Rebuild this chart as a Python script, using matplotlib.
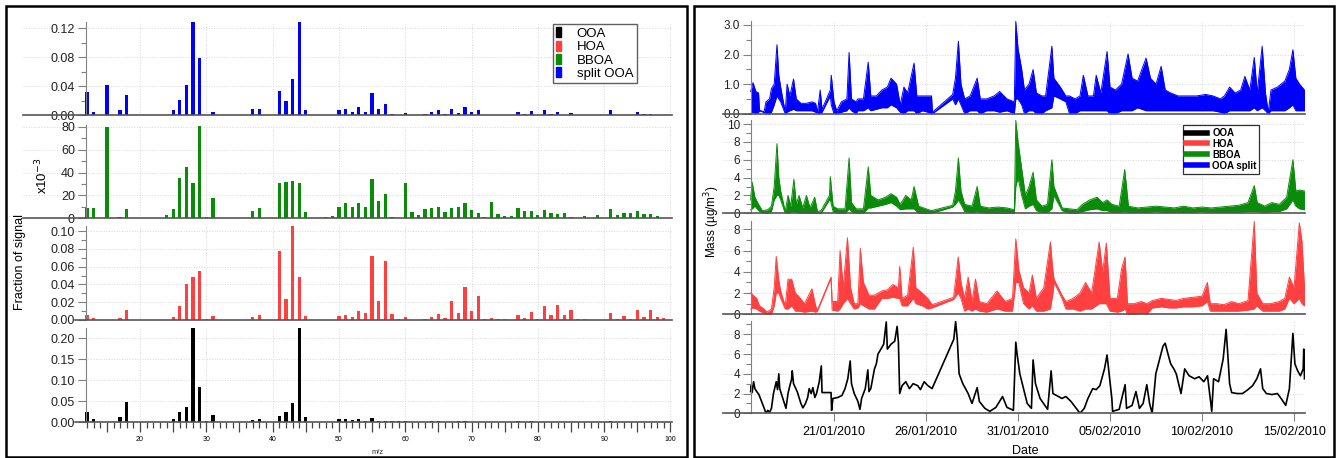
import numpy as np
import matplotlib
matplotlib.use('Agg')
import matplotlib.pyplot as plt
import matplotlib.dates as mdates
from matplotlib.patches import Rectangle, Patch
from matplotlib.lines import Line2D
from matplotlib.ticker import FixedLocator, MultipleLocator, FormatStrFormatter, FuncFormatter

plt.rcParams['font.family'] = ['Liberation Sans', 'DejaVu Sans']

# ---------------- mass spectra (m/z 12..100) ----------------
mz = list(range(12, 101))

split_ooa = [0.032, 0.005, 0, 0.041, 0.001, 0.007, 0.028, 0, 0, 0,
             0, 0, 0, 0.007, 0.021, 0.042, 0.15, 0.079, 0.001, 0.005,
             0, 0, 0, 0, 0, 0.009, 0.009, 0, 0, 0.033,
             0.020, 0.050, 0.15, 0.007, 0, 0, 0, 0, 0.007, 0.008,
             0.004, 0.012, 0.005, 0.031, 0.008, 0.016, 0.002, 0, 0.003, 0,
             0, 0.002, 0.004, 0.007, 0.002, 0.009, 0.003, 0.012, 0.004, 0.007,
             0.0005, 0.0005, 0.0005, 0.0005, 0.001, 0.005, 0.002, 0.006, 0, 0.007,
             0.002, 0.004, 0.001, 0.003, 0, 0, 0, 0, 0, 0.007,
             0, 0.001, 0, 0.004, 0.002, 0.002, 0, 0.001, 0]

bboa = [9.4, 9.4, 0, 80, 0, 1.4, 7.7, 0, 0, 0,
        0, 0, 2.6, 8.5, 35.5, 44.5, 31, 80.5, 1.4, 18,
        0, 0, 0, 0, 0, 6.2, 9.4, 0, 0, 31,
        32, 32.4, 31, 5.4, 0, 0, 0.9, 2.3, 10.2, 13,
        10, 13, 10, 34, 14.7, 21.5, 0.9, 0, 31, 5.1,
        2.6, 7.9, 8.8, 9.6, 5.4, 8.8, 9.6, 13, 7.1, 4.8,
        1.1, 14.2, 4, 1.7, 2, 9.4, 6.8, 6.8, 2.8, 7.4,
        4.5, 3.7, 4.3, 1.1, 0.3, 1.7, 0.3, 2.8, 0.3, 7.9,
        2.8, 4.3, 4.3, 6.2, 3.4, 3.4, 2, 0.3, 0]

hoa = [0.0056, 0.0022, 0, 0, 0.0005, 0.0022, 0.011, 0, 0, 0,
       0, 0, 0, 0.0034, 0.016, 0.041, 0.048, 0.055, 0.001, 0.0045,
       0, 0, 0, 0, 0, 0.0037, 0.0056, 0, 0, 0.077,
       0.024, 0.106, 0.048, 0.0045, 0, 0, 0, 0, 0.0045, 0.0056,
       0.0034, 0.010, 0.0075, 0.072, 0.021, 0.066, 0.0068, 0.0015, 0.0034, 0.0003,
       0.0003, 0.001, 0.0034, 0.0068, 0.0022, 0.021, 0.0075, 0.037, 0.010, 0.027,
       0.0015, 0.0019, 0.0008, 0.0008, 0, 0.0056, 0.0022, 0.009, 0.001, 0.016,
       0.0056, 0.017, 0.0056, 0.011, 0.001, 0.0008, 0, 0, 0, 0.0075,
       0.001, 0.005, 0.0015, 0.011, 0.003, 0.011, 0.0034, 0.0022, 0]

ooa = [0.024, 0.007, 0, 0, 0, 0.013, 0.049, 0, 0, 0,
       0, 0, 0, 0.007, 0.025, 0.037, 0.25, 0.084, 0.002, 0.018,
       0, 0, 0, 0, 0, 0.005, 0.009, 0, 0, 0.014,
       0.025, 0.046, 0.25, 0.013, 0, 0, 0, 0, 0.008, 0.008,
       0.005, 0.009, 0.004, 0.010, 0.004, 0.002, 0.004, 0.002, 0.003, 0,
       0, 0.001, 0.003, 0.004, 0.001, 0.001, 0.004, 0.002, 0.001, 0,
       0, 0.001, 0, 0.001, 0, 0.002, 0.001, 0.002, 0, 0.001,
       0.001, 0, 0, 0, 0.001, 0, 0, 0, 0, 0.002,
       0, 0.001, 0, 0.001, 0.001, 0.001, 0, 0.001, 0]

# ---------------- time series (day of Jan 2010, Feb d = 31+d) ----------------
# (time, low, high) envelopes
blue_pts = [(16.47, 0.0, 0.75), (16.6, 0.05, 1.05), (16.75, 0.0, 0.75), (16.9, 0.05, 0.7),
            (16.95, 0.1, 0.12), (17.2, 0.04, 0.06), (17.3, 0.0, 0.4), (17.5, 0.0, 0.5),
            (17.6, 0.05, 0.85), (17.75, 0.3, 1.0), (17.9, 0.6, 2.33), (18.0, 0.5, 1.3),
            (18.1, 0.4, 0.9), (18.35, 0.0, 0.05), (18.45, 0.05, 1.0), (18.6, 0.1, 0.6),
            (18.8, 0.15, 1.17), (18.95, 0.1, 0.5), (19.2, 0.1, 0.35), (19.5, 0.1, 0.35),
            (19.8, 0.1, 0.4), (20.0, 0.05, 0.35), (20.1, 0.0, 0.05), (20.25, 0.0, 0.8),
            (20.35, 0.05, 0.15), (20.8, 0.6, 0.8), (20.85, 0.3, 1.3), (21.0, 0.0, 0.4),
            (21.15, 0.0, 0.1), (21.4, 0.05, 0.4), (21.7, 0.1, 0.5), (21.82, 0.2, 2.07),
            (21.95, 0.1, 0.5), (22.2, 0.0, 0.4), (22.3, 0.1, 0.5), (22.6, 0.1, 0.5),
            (22.86, 0.2, 1.74), (23.0, 0.1, 0.6), (23.3, 0.15, 0.6), (23.6, 0.2, 0.8),
            (23.9, 0.2, 0.9), (24.1, 0.3, 1.2), (24.4, 0.2, 1.0), (24.6, 0.05, 0.3),
            (24.8, 0.0, 0.9), (25.0, 0.1, 0.7), (25.35, 0.1, 1.71), (25.5, 0.0, 0.6),
            (25.8, 0.1, 0.6), (26.1, 0.05, 0.6), (26.3, 0.0, 0.6), (26.35, 0.0, 0.05),
            (27.45, 0.5, 0.65), (27.6, 0.3, 1.2), (27.76, 0.5, 2.45), (27.9, 0.3, 1.0),
            (28.1, 0.0, 0.5), (28.4, 0.1, 0.6), (28.78, 0.1, 1.2), (28.95, 0.0, 0.5),
            (29.3, 0.1, 0.5), (29.7, 0.1, 0.6), (30.0, 0.05, 0.75), (30.4, 0.1, 0.5),
            (30.8, 0.0, 0.4), (30.88, 0.5, 3.12), (31.0, 0.5, 2.2), (31.2, 0.3, 1.5),
            (31.35, 0.0, 0.8), (31.6, 0.1, 1.0), (31.82, 0.1, 1.49), (32.0, 0.0, 0.7),
            (32.3, 0.0, 0.6), (32.5, 0.1, 0.6), (32.84, 0.2, 2.28), (32.95, 0.6, 1.2),
            (33.3, 0.5, 0.9), (33.6, 0.4, 0.6), (33.8, 0.0, 0.6), (34.1, 0.0, 0.5),
            (34.37, 0.1, 0.6), (34.55, 0.1, 1.3), (34.8, 0.1, 0.6), (35.1, 0.1, 0.6),
            (35.25, 0.1, 1.3), (35.5, 0.1, 0.7), (35.84, 0.1, 2.1), (36.0, 0.0, 0.9),
            (36.3, 0.0, 0.8), (36.63, 0.1, 1.0), (36.98, 0.1, 2.02), (37.2, 0.1, 1.2),
            (37.5, 0.2, 1.1), (37.96, 0.1, 1.88), (38.2, 0.1, 1.2), (38.5, 0.1, 1.0),
            (38.78, 0.1, 1.6), (39.0, 0.1, 0.8), (39.3, 0.1, 0.7), (39.7, 0.1, 0.6),
            (40.2, 0.1, 0.6), (40.7, 0.1, 0.6), (41.2, 0.1, 0.65), (41.6, 0.1, 0.6),
            (42.0, 0.05, 0.5), (42.22, 0.0, 0.6), (42.5, 0.1, 0.9), (42.8, 0.1, 0.7),
            (43.1, 0.1, 0.8), (43.33, 0.1, 1.26), (43.6, 0.1, 0.8), (43.84, 0.2, 1.9),
            (44.0, 0.1, 0.7), (44.27, 0.2, 2.28), (44.45, 0.1, 0.7), (44.6, 0.0, 0.05),
            (44.75, 0.1, 0.8), (45.1, 0.1, 0.9), (45.5, 0.1, 1.1), (45.75, 0.2, 1.5),
            (45.94, 0.3, 2.16), (46.1, 0.1, 1.2), (46.3, 0.1, 1.0), (46.57, 0.1, 0.8)]

green_pts = [(16.47, 0.4, 1.5), (16.55, 0.5, 3.5), (16.7, 0.8, 1.8), (16.9, 0.3, 1.0),
             (17.1, 0.0, 0.3), (17.4, 0.0, 0.4), (17.6, 0.2, 0.8), (17.75, 1.5, 3.0),
             (17.9, 2.0, 7.8), (18.0, 2.0, 4.0), (18.1, 1.5, 2.5), (18.35, 0.0, 0.2),
             (18.5, 0.0, 2.0), (18.65, 0.1, 0.8), (18.82, 0.2, 3.8), (18.95, 0.1, 1.0),
             (19.1, 0.0, 2.0), (19.3, 0.0, 0.6), (19.5, 0.0, 2.0), (19.7, 0.0, 0.6),
             (19.95, 0.0, 1.8), (20.1, 0.0, 0.2), (20.3, 0.0, 0.3), (20.75, 1.5, 2.0),
             (20.8, 1.5, 4.1), (20.95, 0.2, 0.8), (21.2, 0.0, 0.5), (21.6, 0.0, 0.5),
             (21.82, 0.5, 6.2), (21.95, 0.2, 1.2), (22.2, 0.0, 0.5), (22.6, 0.0, 0.5),
             (22.86, 0.6, 5.2), (23.0, 0.6, 2.0), (23.4, 0.8, 1.5), (23.8, 1.0, 1.8),
             (24.1, 1.2, 2.2), (24.4, 0.8, 1.8), (24.6, 0.4, 1.0), (24.9, 0.5, 2.0),
             (25.2, 0.5, 1.5), (25.35, 0.5, 3.0), (25.6, 0.0, 0.8), (26.0, 0.0, 0.5),
             (26.3, 0.0, 0.3), (27.45, 0.7, 0.9), (27.6, 1.0, 2.5), (27.76, 1.5, 6.2),
             (27.9, 1.0, 2.5), (28.1, 0.2, 1.0), (28.5, 0.1, 0.8), (28.78, 0.2, 3.0),
             (28.95, 0.1, 0.8), (29.4, 0.0, 0.6), (29.9, 0.0, 0.7), (30.4, 0.0, 0.6),
             (30.8, 0.0, 0.4), (30.88, 3.0, 10.4), (31.0, 4.0, 8.0), (31.2, 2.0, 5.0),
             (31.4, 0.5, 2.0), (31.6, 0.8, 3.0), (31.82, 1.0, 4.6), (32.0, 0.3, 1.5),
             (32.3, 0.1, 0.8), (32.6, 0.1, 1.0), (32.84, 0.5, 6.0), (32.95, 2.0, 3.0),
             (33.4, 0.3, 0.6), (33.8, 0.0, 0.5), (34.2, 0.0, 0.4), (34.5, 0.2, 1.0),
             (34.9, 0.4, 1.5), (35.3, 0.5, 1.8), (35.6, 0.3, 1.2), (35.84, 0.3, 1.5),
             (36.1, 0.1, 1.0), (36.5, 0.1, 0.8), (36.8, 0.2, 4.9), (37.0, 0.1, 0.8),
             (37.5, 0.1, 0.6), (38.0, 0.1, 0.7), (38.5, 0.2, 0.8), (39.0, 0.1, 0.7),
             (39.5, 0.1, 0.6), (40.0, 0.1, 0.8), (40.5, 0.1, 0.6), (41.0, 0.2, 0.7),
             (41.5, 0.1, 0.6), (42.0, 0.1, 0.7), (42.5, 0.1, 0.8), (43.0, 0.1, 0.9),
             (43.5, 0.2, 1.2), (43.84, 0.2, 3.1), (44.0, 0.2, 1.2), (44.4, 0.1, 0.8),
             (44.8, 0.2, 1.2), (45.2, 0.2, 1.0), (45.6, 0.5, 1.8), (45.94, 1.5, 6.0),
             (46.1, 0.8, 2.5), (46.3, 0.5, 2.6), (46.57, 0.4, 2.5)]

red_pts = [(16.47, 0.5, 2.0), (16.6, 0.6, 1.8), (16.8, 0.5, 1.5), (16.95, 0.3, 0.8),
           (17.2, 0.1, 0.5), (17.35, 0.0, 0.2), (17.6, 0.0, 0.5), (17.75, 0.8, 2.5),
           (17.86, 2.0, 5.45), (18.0, 2.0, 3.2), (18.1, 1.5, 2.2), (18.35, 0.5, 0.8),
           (18.5, 0.5, 3.3), (18.7, 0.8, 3.3), (18.9, 0.3, 2.0), (19.08, 0.3, 1.7),
           (19.4, 0.2, 1.0), (19.8, 0.3, 2.4), (20.0, 0.2, 0.8), (20.1, 0.3, 0.4),
           (20.84, 3.4, 3.5), (20.9, 0.4, 1.2), (21.2, 0.3, 1.2), (21.33, 0.5, 6.0),
           (21.5, 1.0, 2.5), (21.73, 1.5, 7.2), (21.9, 1.0, 2.5), (22.1, 0.5, 1.0),
           (22.3, 0.6, 1.0), (22.43, 1.0, 6.2), (22.6, 0.8, 3.0), (22.9, 0.5, 1.8),
           (23.2, 0.5, 1.8), (23.6, 1.5, 2.2), (23.9, 1.5, 2.3), (24.2, 1.6, 2.8),
           (24.5, 1.5, 2.5), (24.57, 1.5, 4.5), (24.7, 0.8, 1.5), (25.0, 0.8, 1.8),
           (25.31, 1.5, 6.3), (25.45, 1.0, 2.5), (25.8, 0.8, 2.0), (26.1, 0.5, 1.5),
           (26.33, 0.6, 0.9), (27.5, 1.4, 1.6), (27.75, 2.0, 5.4), (27.9, 1.5, 3.0),
           (28.1, 0.3, 1.5), (28.29, 0.5, 3.5), (28.5, 0.3, 1.2), (28.69, 0.5, 3.3),
           (28.9, 0.3, 1.2), (29.3, 0.2, 1.0), (29.86, 0.5, 2.2), (30.3, 0.3, 1.2),
           (30.7, 0.3, 1.5), (30.88, 3.0, 7.1), (31.04, 3.0, 4.2), (31.3, 1.0, 2.5),
           (31.6, 0.5, 2.0), (31.78, 0.8, 3.7), (32.0, 0.3, 1.5), (32.4, 0.3, 2.5),
           (32.76, 0.5, 6.8), (32.9, 2.0, 4.0), (32.96, 3.0, 3.3), (33.39, 1.5, 1.8),
           (33.6, 0.5, 1.2), (34.0, 0.5, 1.5), (34.37, 0.3, 2.0), (34.67, 0.5, 3.0),
           (35.0, 0.5, 2.0), (35.41, 1.0, 6.8), (35.6, 1.0, 4.0), (35.8, 1.0, 6.7),
           (36.0, 0.3, 1.5), (36.4, 0.2, 1.5), (36.63, 0.3, 4.3), (36.82, 0.5, 5.4),
           (36.95, 0.0, 1.0), (37.3, 0.0, 1.0), (37.7, 0.1, 1.2), (38.0, 0.0, 1.0),
           (38.3, 0.6, 1.3), (38.8, 0.7, 1.5), (39.2, 0.6, 1.4), (39.6, 0.6, 1.3),
           (40.0, 0.7, 1.5), (40.5, 0.7, 1.6), (41.0, 0.8, 1.7), (41.29, 1.2, 3.0),
           (41.45, 0.3, 1.0), (41.8, 0.3, 1.0), (42.2, 0.3, 0.9), (42.6, 0.3, 1.2),
           (43.0, 0.3, 1.0), (43.5, 0.4, 1.3), (43.84, 0.5, 8.75), (43.98, 0.8, 2.0),
           (44.3, 0.3, 1.0), (44.7, 0.3, 1.0), (45.2, 0.3, 1.2), (45.5, 0.5, 1.5),
           (45.75, 1.5, 3.5), (46.0, 1.0, 2.5), (46.29, 1.5, 8.6), (46.43, 1.0, 6.9),
           (46.57, 0.8, 2.5)]

# OOA trace (time, value)
black_pts = [(16.47, 2.2), (16.5, 2.8), (16.55, 2.1), (16.63, 3.2), (16.7, 2.5), (16.8, 2.2),
             (16.92, 1.9), (17.31, 0.0), (17.4, 0.3), (17.5, 0.1), (17.6, 0.5), (17.71, 2.0),
             (17.86, 3.2), (17.93, 2.4), (18.0, 4.0), (18.05, 2.5), (18.39, 0.5), (18.5, 2.0),
             (18.6, 2.8), (18.69, 3.4), (18.73, 4.3), (18.8, 3.0), (19.0, 2.2), (19.2, 1.0),
             (19.31, 0.55), (19.45, 1.0), (19.57, 1.6), (19.65, 2.5), (19.76, 2.0), (19.85, 2.6),
             (19.96, 1.6), (20.05, 2.0), (20.2, 3.2), (20.31, 4.8), (20.35, 2.1), (20.84, 2.1),
             (20.87, 0.3), (20.94, 1.5), (21.2, 1.6), (21.43, 1.8), (21.6, 2.5), (21.75, 3.5),
             (21.88, 5.3), (21.95, 3.0), (22.1, 2.0), (22.3, 1.2), (22.41, 0.4), (22.5, 1.5),
             (22.7, 2.5), (22.84, 4.4), (22.9, 2.2), (23.0, 2.5), (23.2, 4.5), (23.3, 5.0),
             (23.39, 6.0), (23.55, 6.5), (23.7, 7.0), (23.84, 9.25), (23.9, 6.5), (24.1, 7.0),
             (24.3, 7.3), (24.43, 8.8), (24.5, 7.2), (24.57, 2.0), (24.7, 2.8), (24.9, 3.2),
             (25.1, 2.5), (25.3, 3.0), (25.55, 2.8), (25.7, 2.4), (25.9, 3.2), (26.1, 2.8),
             (26.33, 2.5), (27.51, 7.5), (27.61, 9.3), (27.7, 7.5), (27.8, 4.0), (28.0, 3.0),
             (28.29, 2.0), (28.5, 1.0), (28.78, 2.6), (28.9, 1.2), (29.2, 0.5), (29.47, 0.2),
             (29.8, 0.6), (30.16, 1.7), (30.4, 0.6), (30.75, 0.3), (30.88, 7.2), (30.95, 6.0),
             (31.1, 4.0), (31.3, 2.5), (31.5, 1.0), (31.73, 0.5), (31.82, 5.4), (31.95, 3.0),
             (32.2, 1.5), (32.61, 0.4), (32.8, 4.3), (32.9, 2.0), (33.39, 1.5), (33.6, 1.7),
             (33.88, 1.2), (34.37, 0.0), (34.6, 0.5), (34.8, 1.5), (35.06, 2.5), (35.25, 2.4),
             (35.45, 2.8), (35.7, 4.5), (35.84, 5.9), (35.95, 4.0), (36.1, 1.5), (36.14, 0.2),
             (36.5, 0.4), (36.82, 2.9), (36.9, 0.5), (37.2, 0.8), (37.41, 2.2), (37.6, 0.5),
             (37.8, 1.0), (38.0, 2.9), (38.15, 1.0), (38.29, 0.0), (38.49, 4.0), (38.7, 5.5),
             (38.88, 6.8), (39.0, 7.1), (39.18, 5.8), (39.3, 5.0), (39.47, 4.5), (39.6, 4.0),
             (39.86, 2.0), (40.06, 4.5), (40.3, 3.8), (40.6, 3.5), (40.84, 3.7), (41.1, 3.2),
             (41.3, 3.8), (41.53, 0.2), (41.63, 3.5), (41.9, 3.2), (42.15, 5.5), (42.31, 8.5),
             (42.4, 6.0), (42.5, 3.0), (42.61, 2.1), (42.9, 2.0), (43.2, 2.0), (43.5, 2.4),
             (43.75, 2.8), (43.98, 3.5), (44.18, 4.5), (44.3, 2.5), (44.5, 2.0), (44.8, 1.9),
             (45.1, 2.0), (45.3, 1.5), (45.55, 0.8), (45.75, 2.5), (45.94, 8.1), (46.05, 5.0),
             (46.2, 4.3), (46.35, 3.8), (46.5, 4.5), (46.53, 6.5), (46.57, 3.5)]

date_ticks = ['2010-01-21', '2010-01-26', '2010-01-31', '2010-02-05', '2010-02-10', '2010-02-15']

ms_labels = ['OOA', 'HOA', 'BBOA', 'split OOA']
ts_labels = ['OOA', 'HOA', 'BBOA', 'OOA split']
c_black, c_red, c_green, c_blue = 'black', '#ff4040', '#0a8c0a', '#0000ff'

# ---------------- figure ----------------
W, H = 1342, 458
fig = plt.figure(figsize=(W / 100, H / 100), dpi=100)


def add_ax(x0, y0, x1, y1):
    return fig.add_axes([x0 / W, 1 - y1 / H, (x1 - x0) / W, (y1 - y0) / H])


grid_kw = dict(color='#d8d8d8', ls=':', lw=0.7)
spine_grey = '#808080'


def style_common(ax, major, minor, fmt, fs):
    for s in ['top', 'right']:
        ax.spines[s].set_visible(False)
    ax.spines['left'].set_color(spine_grey)
    ax.spines['bottom'].set_color('#555555')
    ax.spines['bottom'].set_linewidth(1.2)
    ax.yaxis.set_major_locator(MultipleLocator(major))
    if minor:
        ax.yaxis.set_minor_locator(MultipleLocator(minor))
    ax.yaxis.set_major_formatter(FormatStrFormatter(fmt))
    ax.tick_params(axis='y', which='major', direction='out', length=6, width=0.8,
                   color=spine_grey, labelsize=fs, pad=2, labelcolor='#222222')
    ax.tick_params(axis='y', which='minor', direction='out', length=3.5, width=0.8, color=spine_grey)
    ax.yaxis.grid(True, which='major', **grid_kw)
    ax.set_axisbelow(True)


# ----- left block: mass spectra -----
px_per_mz = 6.63
ms_rows = [
    (split_ooa, c_blue, 23, 22.2, 115.3, 0.128, 0.04, 0.02, '%.2f'),
    (bboa, c_green, 23, 124.5, 218.3, 82, 20, 10, '%d'),
    (hoa, c_red, 75, 225.7, 320.0, 0.106, 0.02, 0.01, '%.2f'),
    (ooa, c_black, 75, 328.0, 422.3, 0.225, 0.05, None, '%.2f'),
]
for i, (vals, col, x0, y0, y1, ytop, maj, mnr, fmt) in enumerate(ms_rows):
    ax = add_ax(x0, y0, 672, y1)
    ax.bar(mz, vals, width=0.5, color=col, linewidth=0)
    ax.set_xlim(12 + (x0 - 87) / px_per_mz, 12 + (672 - 87) / px_per_mz)
    ax.set_ylim(0, ytop)
    style_common(ax, maj, mnr, fmt, 9)
    ax.spines['left'].set_position(('data', 11.85))
    for xv in range(20, 101, 10):
        ax.axvline(xv, zorder=0, **grid_kw)
    if i < 3:
        ax.tick_params(axis='x', which='both', length=0, labelbottom=False)
    else:
        ax.xaxis.set_major_locator(FixedLocator(list(range(15, 101, 5))))
        ax.xaxis.set_minor_locator(FixedLocator(mz))
        ax.xaxis.set_major_formatter(FuncFormatter(lambda v, p: '%d' % v if v % 10 == 0 else ''))
        ax.tick_params(axis='x', which='major', direction='out', length=7, width=0.9,
                       color='#444444', labelsize=5, pad=3)
        ax.tick_params(axis='x', which='minor', direction='out', length=4, width=0.9, color='#444444')
    if i == 0:
        handles = [Patch(color=c) for c in [c_black, c_red, c_green, c_blue]]
        leg = ax.legend(handles, ms_labels, loc='upper left',
                        bbox_to_anchor=(553 / W, 1 - 24 / H), bbox_transform=fig.transFigure,
                        fontsize=9.5, handlelength=0.35, handleheight=0.8, handletextpad=1.2,
                        labelspacing=0.05, borderpad=0.25, borderaxespad=0, fancybox=False,
                        framealpha=1)
        leg.get_frame().set_edgecolor('#606060')
        leg.get_frame().set_linewidth(1.0)

fig.text(20 / W, 1 - 262 / H, 'Fraction of signal', rotation=90, ha='center', va='center', fontsize=9)
fig.text(42 / W, 1 - 176 / H, r'x10$^{-3}$', rotation=90, ha='center', va='center', fontsize=9.5)
fig.text(378 / W, 1 - 453 / H, 'm/z', ha='center', va='center', fontsize=5.5, color='#333333')

# ----- right block: time series -----
t0 = mdates.date2num(np.datetime64('2010-01-01')) - 1
px_per_day = 18.4
tick_pos = [mdates.date2num(np.datetime64(d)) for d in date_ticks]


def band(ax, pts, col):
    arr = np.array(pts)
    x = t0 + arr[:, 0]
    ax.fill_between(x, arr[:, 1], arr[:, 2], color=col, lw=0)
    ax.plot(x, arr[:, 2], color=col, lw=0.7)
    ax.plot(x, arr[:, 1], color=col, lw=0.7)


ts_rows = [
    (blue_pts, c_blue, 113.7, 29.6, 3.12, 1.0, 0.5, '%.1f'),
    (green_pts, c_green, 213.3, 8.93, 10.4, 2, 1, '%d'),
    (red_pts, c_red, 314.3, 10.625, 8.8, 2, 1, '%d'),
    (black_pts, c_black, 413.3, 9.875, 9.3, 2, 1, '%d'),
]
for i, (pts, col, y0px, ppu, ytop, maj, mnr, fmt) in enumerate(ts_rows):
    ax = add_ax(723, y0px - ytop * ppu, 1305, y0px)
    if i < 3:
        band(ax, pts, col)
    else:
        arr = np.array(pts)
        ax.plot(t0 + arr[:, 0], arr[:, 1], color=col, lw=1.2)
    ax.set_xlim(t0 + 21 + (723 - 834) / px_per_day, t0 + 21 + (1305 - 834) / px_per_day)
    ax.set_ylim(0, ytop)
    style_common(ax, maj, mnr, fmt, 8.5)
    ax.spines['left'].set_position(('data', t0 + 21 + (751 - 834) / px_per_day))
    ax.xaxis.set_major_locator(FixedLocator(tick_pos))
    ax.xaxis.grid(True, which='major', **grid_kw)
    if i < 3:
        ax.tick_params(axis='x', which='both', length=0, labelbottom=False)
    else:
        ax.xaxis.set_major_formatter(mdates.DateFormatter('%d/%m/%Y'))
        ax.tick_params(axis='x', which='major', direction='out', length=6, width=0.8,
                       color=spine_grey, labelsize=9, pad=3)
    if i == 1:
        handles = [Line2D([], [], color=c, lw=4) for c in [c_black, c_red, c_green, c_blue]]
        leg = ax.legend(handles, ts_labels, loc='upper left',
                        bbox_to_anchor=(1183 / W, 1 - 125 / H), bbox_transform=fig.transFigure,
                        prop={'size': 7, 'weight': 'bold'}, handlelength=2.2, handletextpad=0.5,
                        labelspacing=0.1, borderpad=0.3, borderaxespad=0, fancybox=False,
                        framealpha=1)
        leg.get_frame().set_edgecolor('#303030')
        leg.get_frame().set_linewidth(0.9)

fig.text(712 / W, 1 - 222 / H, u'Mass (\u00b5g/m$^3$)', rotation=90, ha='center', va='center', fontsize=8.5)
fig.text(1025 / W, 1 - 451 / H, 'Date', ha='center', va='center', fontsize=9)

# panel frames
for (x0, y0, x1, y1) in [(6, 6, 687, 457), (694, 6, 1334, 457)]:
    fig.add_artist(Rectangle((x0 / W, 1 - y1 / H), (x1 - x0) / W, (y1 - y0) / H,
                             transform=fig.transFigure, fill=False, ec='black', lw=1.8))

fig.savefig('out.png', dpi=100)
